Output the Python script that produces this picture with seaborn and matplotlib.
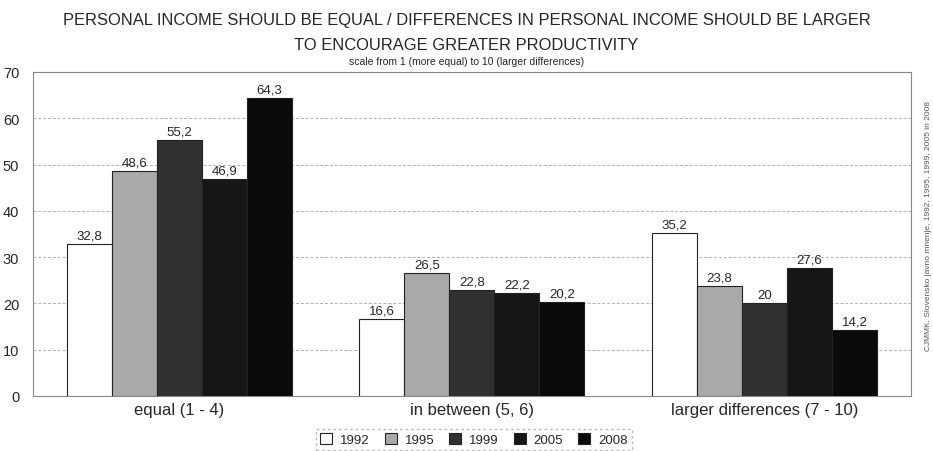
import pandas as pd
import seaborn as sns
import matplotlib.pyplot as plt

# data
categories = ["equal (1 - 4)", "in between (5, 6)", "larger differences (7 - 10)"]
years = ["1992", "1995", "1999", "2005", "2008"]
v1992 = [32.8, 16.6, 35.2]
v1995 = [48.6, 26.5, 23.8]
v1999 = [55.2, 22.8, 20.0]
v2005 = [46.9, 22.2, 27.6]
v2008 = [64.3, 20.2, 14.2]
colors = ["#ffffff", "#a9a9a9", "#303030", "#161616", "#0a0a0a"]

rows = []
for yr, vals in zip(years, [v1992, v1995, v1999, v2005, v2008]):
    for c, v in zip(categories, vals):
        rows.append({"category": c, "year": yr, "value": v})
df = pd.DataFrame(rows)

sns.set_style("white")
plt.rcParams["font.family"] = ["Liberation Sans", "DejaVu Sans"]

fig = plt.figure(figsize=(9.33, 4.52), dpi=100)
ax = fig.add_axes([0.0354, 0.1217, 0.9406, 0.7168])

sns.barplot(data=df, x="category", y="value", hue="year", palette=colors,
            edgecolor="#222222", linewidth=0.8, width=0.77, saturation=1,
            ax=ax, legend=False, zorder=3)

for cont in ax.containers:
    ax.bar_label(cont, labels=[f"{v:g}".replace(".", ",") for v in cont.datavalues],
                 fontsize=9.5, padding=2)

ax.set_ylim(0, 70)
ax.set_yticks(range(0, 71, 10))
ax.yaxis.grid(True, linestyle=(0, (3, 2)), color="#b0b0b0", linewidth=0.7, zorder=0)
ax.set_xlabel("")
ax.set_ylabel("")
ax.tick_params(axis="x", labelsize=12, length=0, pad=4)
ax.tick_params(axis="y", labelsize=10.5, length=0, pad=10)
for s in ax.spines.values():
    s.set_color("#888888")
    s.set_linewidth(0.8)

fig.text(0.5, 0.955, "PERSONAL INCOME SHOULD BE EQUAL / DIFFERENCES IN PERSONAL INCOME SHOULD BE LARGER",
         ha="center", va="center", fontsize=11.9)
fig.text(0.5, 0.90, "TO ENCOURAGE GREATER PRODUCTIVITY", ha="center", va="center", fontsize=11.9)
fig.text(0.5, 0.862, "scale from 1 (more equal) to 10 (larger differences)",
         ha="center", va="center", fontsize=7.5)
fig.text(0.995, 0.5, "CJMMK, Slovensko javno mnenje, 1992, 1995, 1999, 2005 in 2008",
         rotation=90, ha="center", va="center", fontsize=6, color="#555555")

handles = [plt.Rectangle((0, 0), 1, 1, facecolor=c, edgecolor="#222222", linewidth=0.8)
           for c in colors]
leg = fig.legend(handles, years, loc="center", bbox_to_anchor=(0.508, 0.025), ncol=5,
                 fontsize=9.5, frameon=True, handlelength=0.9, handleheight=0.9,
                 columnspacing=1.15, handletextpad=0.6, borderpad=0.3, fancybox=False)
leg.get_frame().set_edgecolor("#aaaaaa")
leg.get_frame().set_linestyle((0, (2, 2)))

fig.savefig("out.png", dpi=100)
